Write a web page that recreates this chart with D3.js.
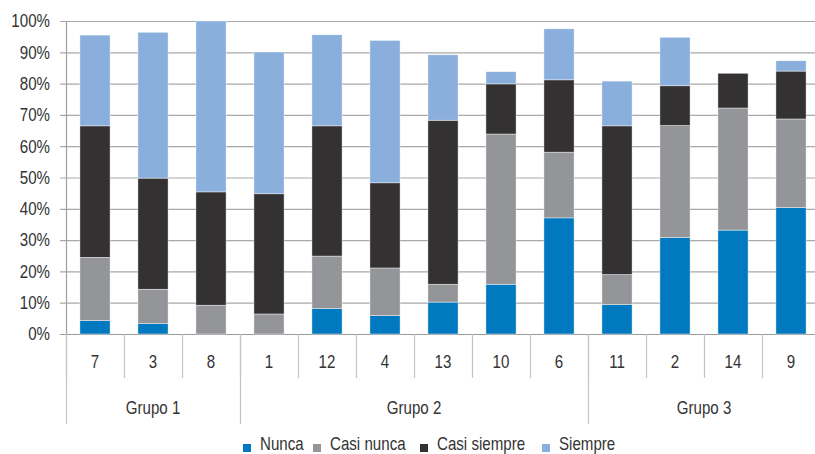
<!DOCTYPE html>
<html>
<head>
<meta charset="utf-8">
<script src="https://cdn.jsdelivr.net/npm/d3@7"></script>
<style>
  html, body { margin: 0; padding: 0; background: #fff; overflow: hidden; }
  svg { display: block; }
  text { font-family: "Liberation Sans", Arial, sans-serif; fill: #333; font-size: 18px; }
</style>
</head>
<body>
<svg id="chart" width="815" height="454"></svg>
<script>
// Respondents' answers per item (%), grouped into three blocks
const categories = ["7", "3", "8", "1", "12", "4", "13", "10", "6", "11", "2", "14", "9"];
const groups = [
  { name: "Grupo 1", items: ["7", "3", "8"] },
  { name: "Grupo 2", items: ["1", "12", "4", "13", "10", "6"] },
  { name: "Grupo 3", items: ["11", "2", "14", "9"] }
];
const seriesNames = ["Nunca", "Casi nunca", "Casi siempre", "Siempre"];
const nunca       = [4.3, 3.3, 0.0, 0.0, 8.1, 5.9, 10.2, 15.9, 37.1, 9.4, 30.8, 33.2, 40.4];
const casiNunca   = [20.2, 11.0, 9.2, 6.4, 16.8, 15.2, 5.7, 48.0, 21.0, 9.6, 35.8, 39.0, 28.3];
const casiSiempre = [42.0, 35.5, 36.2, 38.4, 41.6, 27.2, 52.4, 16.0, 23.1, 47.5, 12.7, 11.1, 15.3];
const siempre     = [29.0, 46.6, 54.6, 45.3, 29.1, 45.5, 20.9, 3.9, 16.3, 14.3, 15.5, 0.0, 3.3];
const yTicks = [0, 10, 20, 30, 40, 50, 60, 70, 80, 90, 100];
const colors = ["#0079c1", "#939598", "#333132", "#8aafdd"];

const rows = categories.map((c, i) => ({
  cat: c,
  "Nunca": nunca[i],
  "Casi nunca": casiNunca[i],
  "Casi siempre": casiSiempre[i],
  "Siempre": siempre[i]
}));

const svg = d3.select("#chart");
const plotLeft = 66, plotRight = 820, plotTop = 21, plotBottom = 334;
const narrow = 0.84; // horizontal squeeze for a condensed look

const x = d3.scaleBand().domain(categories).range([plotLeft, plotRight])
  .paddingInner(0.48).paddingOuter(0.24);
const xSlots = d3.scaleBand().domain(categories).range([plotLeft, plotRight]).padding(0);
const y = d3.scaleLinear().domain([0, 100]).range([plotBottom, plotTop]);
const color = d3.scaleOrdinal().domain(seriesNames).range(colors);

const place = (px, py) => `translate(${px},${py}) scale(${narrow},1)`;

// Horizontal gridlines with short outward ticks
svg.append("g").selectAll("line").data(yTicks).join("line")
  .attr("x1", plotLeft - 6).attr("x2", plotRight)
  .attr("y1", d => y(d) + 0.5).attr("y2", d => y(d) + 0.5)
  .attr("stroke", d => d === 0 ? "#9a9a9a" : "#a8a8a8").attr("stroke-width", 1.2);

// Y tick labels
svg.append("g").selectAll("text").data(yTicks).join("text")
  .attr("transform", d => place(50, y(d))).attr("dy", "0.35em")
  .attr("text-anchor", "end")
  .text(d => d + "%");

// Stacked bars
const stacked = d3.stack().keys(seriesNames)(rows);
svg.append("g").selectAll("g").data(stacked).join("g")
  .attr("fill", d => color(d.key))
  .selectAll("rect").data(d => d.filter(s => s[1] - s[0] > 0)).join("rect")
  .attr("x", d => x(d.data.cat))
  .attr("width", x.bandwidth())
  .attr("y", d => y(d[1]))
  .attr("height", d => y(d[0]) - y(d[1]))
  .attr("stroke", "#ffffff").attr("stroke-width", 0.6).attr("stroke-opacity", 0.7);

// Left axis line
svg.append("line").attr("x1", plotLeft + 0.5).attr("x2", plotLeft + 0.5)
  .attr("y1", plotTop).attr("y2", plotBottom).attr("stroke", "#a0a0a0").attr("stroke-width", 1.2);

// Category separators and labels
const catBounds = categories.map(c => xSlots(c)).concat([plotRight]);
svg.append("g").selectAll("line").data(catBounds).join("line")
  .attr("x1", d => d + 0.5).attr("x2", d => d + 0.5)
  .attr("y1", plotBottom).attr("y2", 378)
  .attr("stroke", "#c4c4c4").attr("stroke-width", 1.2);

svg.append("g").selectAll("text").data(categories).join("text")
  .attr("transform", d => place(xSlots(d) + xSlots.bandwidth() / 2, 362))
  .attr("dy", "0.35em").attr("text-anchor", "middle")
  .text(d => d);

// Group separators and labels
const groupBounds = groups.map(g => xSlots(g.items[0])).concat([plotRight]);
svg.append("g").selectAll("line").data(groupBounds).join("line")
  .attr("x1", d => d + 0.5).attr("x2", d => d + 0.5)
  .attr("y1", plotBottom).attr("y2", 424)
  .attr("stroke", "#c4c4c4").attr("stroke-width", 1.2);

svg.append("g").selectAll("text").data(groups).join("text")
  .attr("transform", g => place((xSlots(g.items[0]) + xSlots(g.items[g.items.length - 1]) + xSlots.bandwidth()) / 2, 408))
  .attr("dy", "0.35em").attr("text-anchor", "middle")
  .text(g => g.name);

// Legend
const legendX = [243, 313, 420, 542];
const legend = svg.append("g").selectAll("g").data(seriesNames).join("g")
  .attr("transform", (d, i) => `translate(${legendX[i]},0)`);
legend.append("rect").attr("x", 0).attr("y", 444).attr("width", 8).attr("height", 8)
  .attr("fill", d => color(d));
legend.append("text").attr("transform", place(17, 450)).text(d => d);
</script>
</body>
</html>
